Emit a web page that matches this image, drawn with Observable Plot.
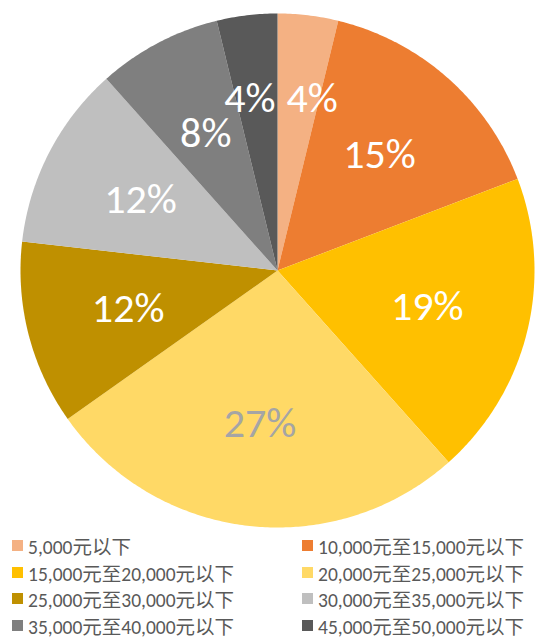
<!DOCTYPE html>
<html>
<head>
<meta charset="utf-8">
<script src="https://cdn.jsdelivr.net/npm/d3@7"></script>
<script src="https://cdn.jsdelivr.net/npm/@observablehq/plot@0.6"></script>
<style>
  body { margin: 0; background: #fff; font-family: Carlito, Lato, "Noto Sans CJK SC", sans-serif; }
  #wrap { position: relative; width: 535px; height: 637px; overflow: hidden; }
  #legend { position: absolute; left: 0; top: 535px; width: 535px; height: 102px; }
  .item { position: absolute; display: flex; align-items: center; font-size: 19.5px; color: #595959; white-space: nowrap; }
  .sw { width: 11px; height: 11px; margin-right: 5px; flex: none; }
</style>
</head>
<body>
<div id="wrap"><div id="chart"></div><div id="legend"></div></div>
<script>
const categories = [
  "5,000元以下",
  "10,000元至15,000元以下",
  "15,000元至20,000元以下",
  "20,000元至25,000元以下",
  "25,000元至30,000元以下",
  "30,000元至35,000元以下",
  "35,000元至40,000元以下",
  "45,000元至50,000元以下"
];
const values = [3.8, 15.4, 19.2, 26.8, 11.6, 11.6, 7.8, 3.8];
const colors = ["#F4B183", "#ED7D31", "#FFC000", "#FFD966", "#BF9000", "#BFBFBF", "#7F7F7F", "#595959"];
const labelColors = ["#FFFFFF", "#FFFFFF", "#FFFFFF", "#A5A5A5", "#FFFFFF", "#FFFFFF", "#FFFFFF", "#FFFFFF"];

const total = d3.sum(values);
const slices = [];
let acc = 0;
values.forEach((v, i) => {
  const a0 = acc / total * 2 * Math.PI;
  acc += v;
  const a1 = acc / total * 2 * Math.PI;
  slices.push({cat: categories[i], v, a0, a1, i});
});

// polygon points for each wedge
const pts = [];
for (const s of slices) {
  pts.push({cat: s.cat, x: 0, y: 0});
  const n = Math.max(8, Math.ceil((s.a1 - s.a0) / 0.01));
  for (let k = 0; k <= n; k++) {
    const a = s.a0 + (s.a1 - s.a0) * k / n;
    pts.push({cat: s.cat, x: Math.sin(a), y: Math.cos(a)});
  }
  pts.push({cat: s.cat, x: 0, y: 0});
}

const R = 257;
const labels = slices.map(s => {
  const m = (s.a0 + s.a1) / 2;
  const small = s.v / total < 0.05;
  const r = small ? 0.675 : 0.6;
  const right = Math.sin(m) > 0;
  let x = Math.sin(m) * r;
  if (small) x = right ? 9 / R : -2 / R;
  return {
    text: Math.round(s.v / total * 100) + "%",
    x, y: Math.cos(m) * r, color: labelColors[s.i], small, right
  };
});

const textOpts = {x: "x", y: "y", text: "text", fill: d => d.color, fontSize: 42,
  fontFamily: "Carlito, Lato, sans-serif", lineAnchor: "middle"};

const chart = Plot.plot({
  width: 535, height: 535,
  margin: 0,
  x: {domain: [-1, 1], range: [20, 534], axis: null},
  y: {domain: [-1, 1], range: [527, 13], axis: null},
  color: {domain: categories, range: colors},
  style: {background: "transparent"},
  marks: [
    Plot.line(pts, {x: "x", y: "y", z: "cat", fill: "cat", stroke: "none", curve: "linear"}),
    Plot.text(labels.filter(d => !d.small), {...textOpts, textAnchor: "middle"}),
    Plot.text(labels.filter(d => d.small && d.right), {...textOpts, textAnchor: "start"}),
    Plot.text(labels.filter(d => d.small && !d.right), {...textOpts, textAnchor: "end"})
  ]
});
document.getElementById("chart").appendChild(chart);

const legend = document.getElementById("legend");
const rowY = [10, 37, 63, 90];
categories.forEach((c, i) => {
  const col = i % 2, row = Math.floor(i / 2);
  const el = document.createElement("div");
  el.className = "item";
  el.style.left = (col ? 302 : 12) + "px";
  el.style.top = (rowY[row] - 12) + "px";
  el.style.height = "24px";
  el.innerHTML = `<span class="sw" style="background:${colors[i]}"></span><span>${c}</span>`;
  legend.appendChild(el);
});
</script>
</body>
</html>
